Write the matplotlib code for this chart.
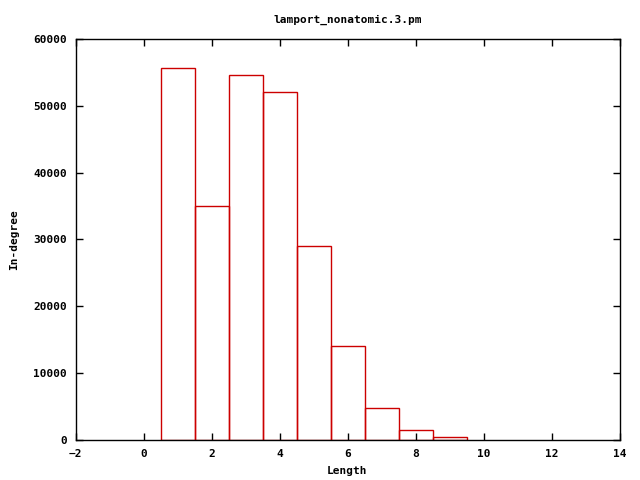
import matplotlib
matplotlib.use("Agg")
import matplotlib.pyplot as plt

lengths = [1, 2, 3, 4, 5, 6, 7, 8, 9]
counts = [55600, 35000, 54600, 52000, 29000, 14000, 4800, 1500, 450]

plt.rcParams["font.family"] = "DejaVu Sans Mono"
plt.rcParams["font.weight"] = "bold"
plt.rcParams["font.size"] = 8

fig = plt.figure(figsize=(6.4, 4.8), dpi=100)
ax = fig.add_axes([75.5 / 640, 40 / 480, 544 / 640, 401 / 480])

ax.bar(lengths, counts, width=1.0, fill=False, edgecolor="#cc0000", linewidth=1)

ax.set_xlim(-2, 14)
ax.set_ylim(0, 60000)
ax.set_xticks(range(-2, 15, 2))
ax.set_yticks(range(0, 60001, 10000))
ax.tick_params(direction="in", top=True, right=True, length=5, width=1, labelsize=8)
ax.tick_params(axis="x", pad=6.5)
ax.tick_params(axis="y", pad=6)
for t in ax.get_xticklabels() + ax.get_yticklabels():
    t.set_fontweight("bold")
for s in ax.spines.values():
    s.set_linewidth(1)

ax.set_xlabel("Length", fontweight="bold", fontsize=8, labelpad=5)
ax.set_ylabel("In-degree", fontweight="bold", fontsize=8, labelpad=10)
ax.set_title("lamport_nonatomic.3.pm", fontweight="bold", fontsize=8, pad=12)

fig.savefig("out.png", dpi=100)
